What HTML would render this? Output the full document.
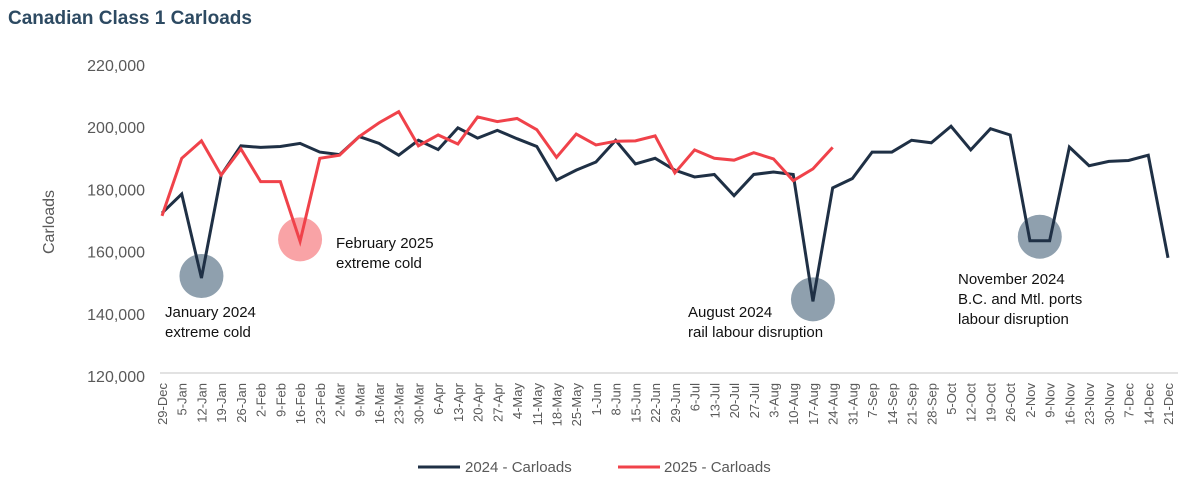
<!DOCTYPE html>
<html><head><meta charset="utf-8"><style>
body{margin:0;background:#fff;width:1201px;height:496px;overflow:hidden;font-family:"Liberation Sans",sans-serif}
</style></head><body>
<svg id="chart" width="1201" height="496" xmlns="http://www.w3.org/2000/svg">
<text x="8" y="24" font-size="19" font-weight="bold" fill="#2d4a62">Canadian Class 1 Carloads</text>
<text transform="translate(54,222) rotate(-90)" text-anchor="middle" font-size="16" fill="#595959">Carloads</text>
<g id="yticks"></g><g id="xticks"></g>
<line x1="160" x2="1178" y1="373" y2="373" stroke="#d9d9d9" stroke-width="1.5"/>
<g id="circles"></g><g id="lines"></g>
<g font-size="15" fill="#111">
<text x="165" y="317">January 2024<tspan x="165" dy="20">extreme cold</tspan></text>
<text x="336" y="248">February 2025<tspan x="336" dy="20">extreme cold</tspan></text>
<text x="688" y="317">August 2024<tspan x="688" dy="20">rail labour disruption</tspan></text>
<text x="958" y="284">November 2024<tspan x="958" dy="20">B.C. and Mtl. ports</tspan><tspan x="958" dy="20">labour disruption</tspan></text>
</g>
<g font-size="15" fill="#595959">
<line x1="418" x2="460" y1="467" y2="467" stroke="#1f3045" stroke-width="3"/>
<text x="465" y="472">2024 - Carloads</text>
<line x1="618" x2="660" y1="467" y2="467" stroke="#f0424a" stroke-width="3"/>
<text x="664" y="472">2025 - Carloads</text>
</g>
</svg>
<script>
const categories=["29-Dec","5-Jan","12-Jan","19-Jan","26-Jan","2-Feb","9-Feb","16-Feb","23-Feb","2-Mar","9-Mar","16-Mar","23-Mar","30-Mar","6-Apr","13-Apr","20-Apr","27-Apr","4-May","11-May","18-May","25-May","1-Jun","8-Jun","15-Jun","22-Jun","29-Jun","6-Jul","13-Jul","20-Jul","27-Jul","3-Aug","10-Aug","17-Aug","24-Aug","31-Aug","7-Sep","14-Sep","21-Sep","28-Sep","5-Oct","12-Oct","19-Oct","26-Oct","2-Nov","9-Nov","16-Nov","23-Nov","30-Nov","7-Dec","14-Dec","21-Dec"];
const carloads2024=[172400,178500,151500,184600,194000,193500,193800,194800,192000,191200,197000,194800,191000,195800,192800,199800,196500,199000,196300,193800,183000,186200,188800,195800,188200,190000,186200,184000,184800,178000,184800,185600,184800,144000,180500,183500,192000,192000,195800,195000,200300,192700,199500,197500,163500,163500,193600,187600,189000,189300,191000,158000];
const carloads2025=[171500,190000,195600,184600,193000,182500,182500,163300,190000,191000,197000,201400,205000,194000,197500,194600,203300,201800,202800,199200,190300,197800,194300,195500,195600,197200,185300,192700,190000,189400,191800,189800,182800,186600,193500];
const yTicks=[120000,140000,160000,180000,200000,220000];
const ns="http://www.w3.org/2000/svg";
const x0=162,x1=1168,yTop=65,yBot=376,vMin=120000,vMax=220000;
function xs(i){return x0+i*(x1-x0)/(categories.length-1);}
function ys(v){return yBot-(v-vMin)/(vMax-vMin)*(yBot-yTop);}
function mk(t,a){const e=document.createElementNS(ns,t);for(const k in a)e.setAttribute(k,a[k]);return e;}
const yg=document.getElementById('yticks');
yTicks.forEach(v=>{const t=mk('text',{x:145,y:ys(v)+6,'text-anchor':'end','font-size':16,fill:'#595959'});


t.textContent=v.toLocaleString('en-US');yg.appendChild(t);});
const xg=document.getElementById('xticks');
categories.forEach((c,i)=>{const t=mk('text',{transform:`translate(${xs(i)+5},383) rotate(-90)`,'text-anchor':'end','font-size':13,fill:'#595959'});


t.textContent=c;xg.appendChild(t);});
const cg=document.getElementById('circles');
[[2,carloads2024,'#8fa0ae'],[7,carloads2025,'#f9a3a6'],[33,carloads2024,'#8fa0ae']].forEach(([i,s,col])=>{
const c=mk('circle',{cx:xs(i),cy:ys(s[i])-2,r:22,fill:col});


cg.appendChild(c);});
{const c=mk('circle',{cx:(xs(44)+xs(45))/2,cy:ys(carloads2024[44])-4,r:22,fill:'#8fa0ae'});


cg.appendChild(c);}
const lg=document.getElementById('lines');
[[carloads2024,'#1f3045','line-2024'],[carloads2025,'#f0424a','line-2025']].forEach(([s,col,n])=>{
const p=mk('polyline',{points:s.map((v,i)=>xs(i)+','+ys(v)).join(' '),fill:'none',stroke:col,'stroke-width':3,'stroke-linejoin':'miter'});


lg.appendChild(p);});
</script>
</body></html>
